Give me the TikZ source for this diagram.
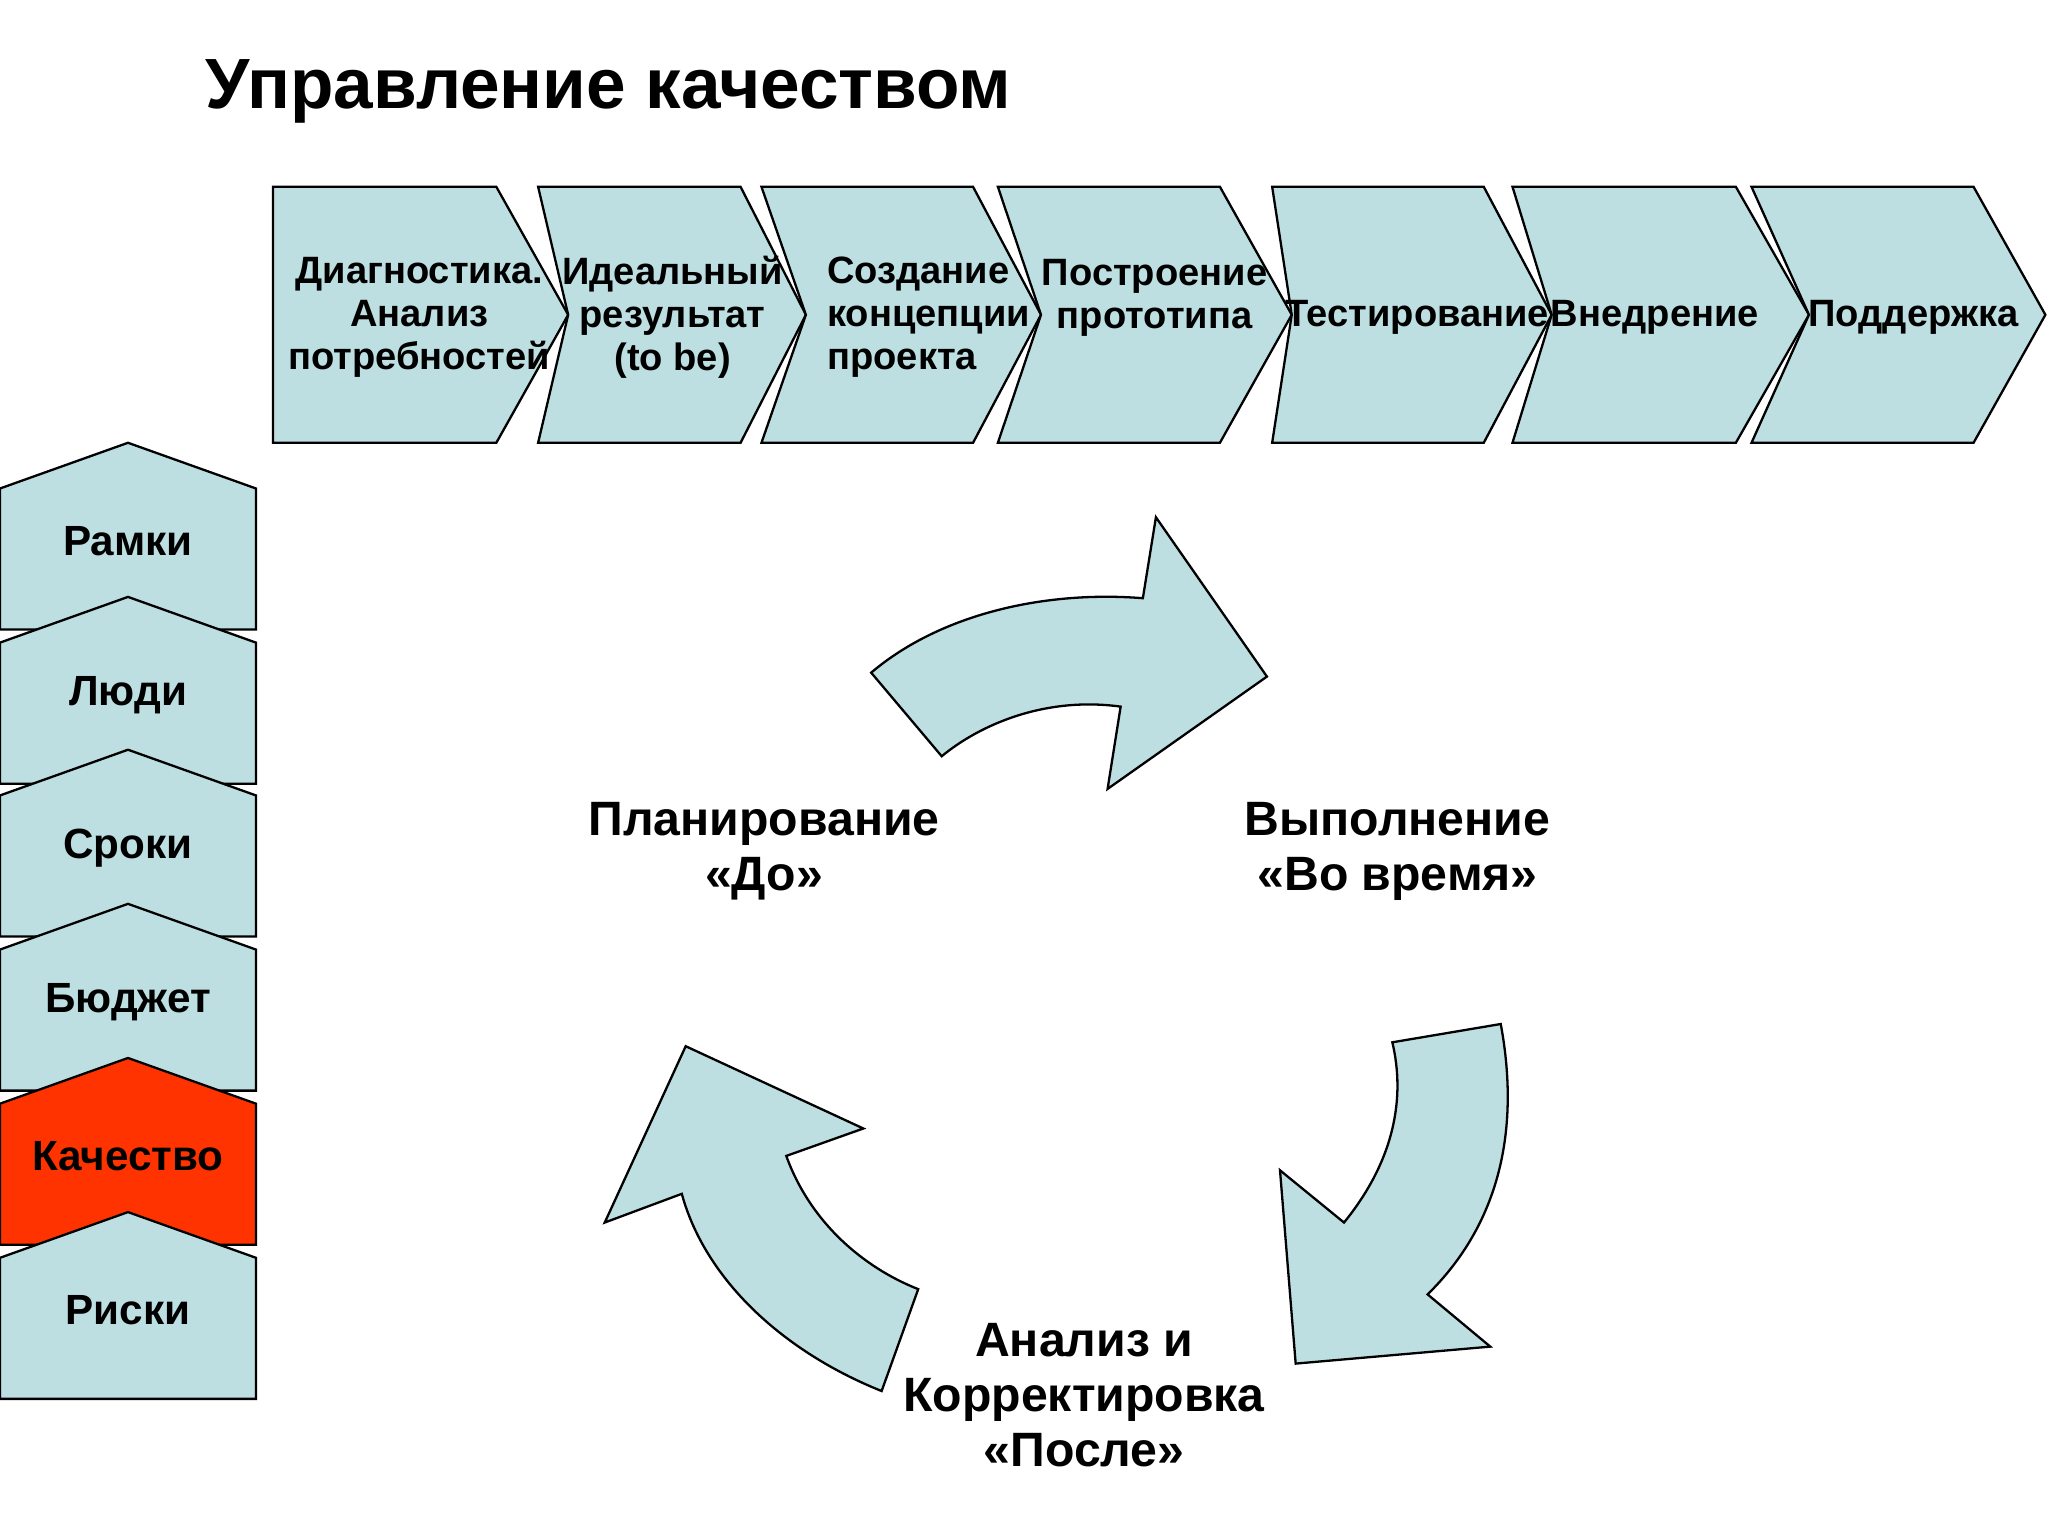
\documentclass[tikz,border=0pt]{standalone}
\usepackage{fontspec}
\setmainfont{Liberation Sans}
\definecolor{pale}{RGB}{189,223,226}
\definecolor{hot}{RGB}{255,51,0}
\begin{document}
\begin{tikzpicture}[x=0.1mm,y=-0.1mm,
  shp/.style={draw=black,fill=pale,line width=0.5pt},
  lbl/.style={font=\bfseries\fontsize{8.3}{9.4}\selectfont,align=center},
  side/.style={font=\bfseries\fontsize{9.2}{11}\selectfont},
  cyc/.style={font=\bfseries\fontsize{10.5}{12}\selectfont,align=center}]
\useasboundingbox (0,0) rectangle (1568,1176);
\node[font=\bfseries\fontsize{15.5}{18}\selectfont,anchor=west] (title) at (145,70) {Управление качеством};
% top chevrons
\draw[shp] (209,143) -- (380,143) -- (435,241) -- (380,339) -- (209,339) -- cycle;
\draw[shp] (412,143) -- (567,143) -- (617,241) -- (567,339) -- (412,339) -- (435,241) -- cycle;
\draw[shp] (583,143) -- (745,143) -- (797,241) -- (745,339) -- (583,339) -- (617,241) -- cycle;
\draw[shp] (764,143) -- (934,143) -- (989,241) -- (934,339) -- (764,339) -- (797,241) -- cycle;
\draw[shp] (974,143) -- (1136,143) -- (1188,241) -- (1136,339) -- (974,339) -- (989,241) -- cycle;
\draw[shp] (1158,143) -- (1329,143) -- (1385,241) -- (1329,339) -- (1158,339) -- (1188,241) -- cycle;
\draw[shp] (1341,143) -- (1511,143) -- (1566,241) -- (1511,339) -- (1341,339) -- (1385,241) -- cycle;
\node[lbl] (c1) at (321,243) {Диагностика.\\Анализ\\потребностей};
\node[lbl] (c2) at (515,243) {Идеальный\\результат\\(to be)};
\node[lbl,align=left] (c3) at (711,243) {Создание\\концепции\\проекта};
\node[lbl] (c4) at (884,228) {Построение\\прототипа};
\node[lbl] (c5) at (1085,243) {Тестирование};
\node[lbl] (c6) at (1267,243) {Внедрение};
\node[lbl] (c7) at (1465,243) {Поддержка};
% side pentagons
\foreach \a/\t/\c [count=\i] in {339/Рамки/pale,457/Люди/pale,574/Сроки/pale,692/Бюджет/pale,810/Качество/hot,928/Риски/pale}{
  \draw[shp,fill=\c] (0,\a+35) -- (98,\a) -- (196,\a+35) -- (196,\a+143) -- (0,\a+143) -- cycle;
  \node[side] (s\i) at (98,\a+75) {\t};
}
% cycle arrows
\draw[shp] (667,515) .. controls (720,470) and (800,452) .. (875,458) -- (885,396) -- (970,518) -- (848,604) -- (858,541) .. controls (800,533) and (750,555) .. (721,579) -- cycle;
\draw[shp] (1066,798) -- (1149,784) .. controls (1165,870) and (1145,940) .. (1093,991) -- (1141,1031) -- (992,1044) -- (980,896) -- (1029,936) .. controls (1068,888) and (1076,840) .. (1066,798) -- cycle;
\draw[shp] (703,987) -- (675,1065) .. controls (600,1035) and (540,980) .. (522,914) -- (463,936) -- (525,801) -- (661,864) -- (602,885) .. controls (620,935) and (660,970) .. (703,987) -- cycle;
\node[cyc] (p) at (585,652) {Планирование\\«До»};
\node[cyc] (v) at (1070,652) {Выполнение\\«Во время»};
\node[cyc] (a) at (830,1068) {Анализ и\\Корректировка\\«После»};
\end{tikzpicture}
\end{document}
